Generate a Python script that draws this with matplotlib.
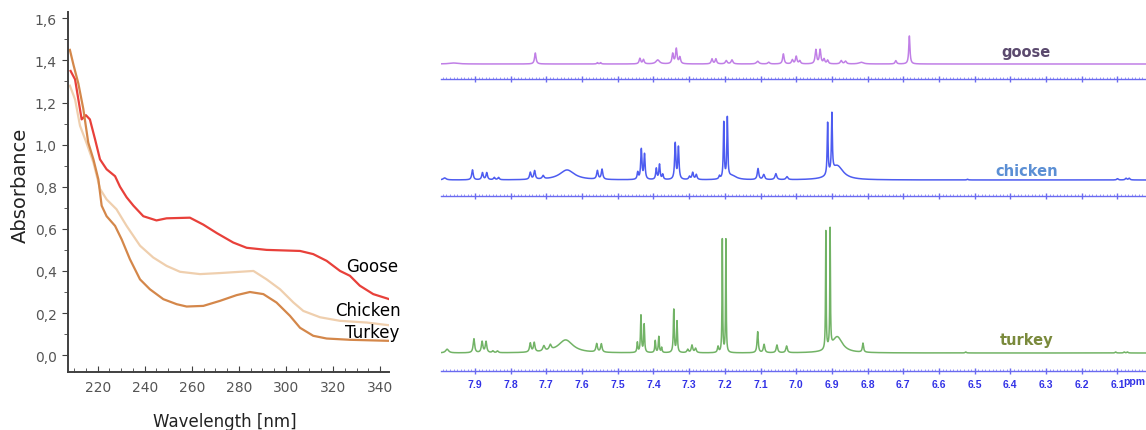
import numpy as np
import matplotlib
matplotlib.use("Agg")
import matplotlib.pyplot as plt
from matplotlib.ticker import MultipleLocator

# UV-Vis absorbance curves (wavelength nm, absorbance)
goose_nm = [208.5, 210.4, 211.8, 213.2, 215.0, 216.7, 218.9, 221.0, 223.8, 227.4, 229.5,
            232.3, 235.2, 239.4, 245.0, 249.3, 259.2, 264.9, 270.6, 277.6, 283.3, 291.8,
            306.0, 311.6, 317.3, 323.0, 327.2, 331.4, 337.1, 343.9]
goose_abs = [1.35, 1.31, 1.215, 1.12, 1.14, 1.12, 1.025, 0.93, 0.883, 0.85, 0.80,
             0.75, 0.71, 0.66, 0.64, 0.65, 0.653, 0.62, 0.58, 0.535, 0.51, 0.50,
             0.495, 0.48, 0.448, 0.40, 0.377, 0.33, 0.29, 0.266]

chicken_nm = [208.2, 210.4, 212.5, 215.2, 218.2, 221.0, 223.8, 228.0, 232.3, 238.0, 243.6,
              249.3, 255.0, 263.5, 272.0, 280.5, 286.2, 291.8, 297.5, 303.2, 307.4, 314.5,
              323.0, 334.3, 343.9]
chicken_abs = [1.28, 1.215, 1.09, 1.01, 0.915, 0.79, 0.74, 0.693, 0.614, 0.52, 0.464,
               0.424, 0.396, 0.385, 0.39, 0.396, 0.40, 0.36, 0.313, 0.25, 0.21, 0.18,
               0.163, 0.155, 0.142]

turkey_nm = [208.2, 209.7, 211.8, 213.9, 216.0, 218.2, 220.3, 221.7, 223.8, 227.4, 230.2,
             233.7, 238.0, 242.2, 247.9, 253.6, 257.8, 264.9, 272.0, 279.0, 284.7, 290.4,
             296.0, 301.7, 306.0, 311.6, 317.3, 327.2, 343.9]
turkey_abs = [1.45, 1.38, 1.29, 1.17, 1.01, 0.93, 0.835, 0.71, 0.66, 0.614, 0.55,
              0.456, 0.36, 0.313, 0.266, 0.242, 0.231, 0.234, 0.258, 0.285, 0.30, 0.29,
              0.25, 0.187, 0.13, 0.092, 0.079, 0.073, 0.068]

uv_yticks = [0.0, 0.2, 0.4, 0.6, 0.8, 1.0, 1.2, 1.4, 1.6]
uv_xticks = [220, 240, 260, 280, 300, 320, 340]

# 1H NMR peak tables: (shift ppm, height, line width ppm)
goose_peaks = [
    (7.96, 1.0, 0.03), (7.731, 11, 0.005), (7.557, 1.3, 0.004), (7.548, 1.3, 0.004),
    (7.438, 5.5, 0.005), (7.428, 4.3, 0.005), (7.388, 4, 0.012),
    (7.346, 10, 0.005), (7.336, 15, 0.005), (7.326, 6.5, 0.005),
    (7.236, 5, 0.005), (7.225, 5, 0.005), (7.196, 3.3, 0.006), (7.18, 4, 0.006),
    (7.108, 2.7, 0.008), (7.077, 1.7, 0.006), (7.036, 10, 0.005),
    (7.011, 4, 0.005), (7.0, 7.5, 0.005), (6.99, 3, 0.005),
    (6.945, 14, 0.005), (6.933, 14, 0.005), (6.922, 4.5, 0.005), (6.912, 3.5, 0.005),
    (6.874, 3.3, 0.006), (6.862, 2.7, 0.006), (6.818, 1.7, 0.015),
    (6.721, 3.3, 0.005), (6.683, 28, 0.004),
]
chicken_peaks = [
    (7.985, 2, 0.01), (7.907, 10, 0.005), (7.879, 7, 0.005), (7.867, 7, 0.005),
    (7.846, 2.3, 0.005), (7.834, 2.3, 0.005), (7.745, 7, 0.005), (7.733, 8.5, 0.005),
    (7.709, 3.3, 0.006), (7.642, 10, 0.05), (7.557, 8.5, 0.005), (7.544, 10, 0.005),
    (7.444, 7, 0.004), (7.434, 30, 0.004), (7.425, 25, 0.004),
    (7.392, 11, 0.004), (7.383, 15, 0.004), (7.374, 5, 0.004),
    (7.339, 36, 0.004), (7.33, 32, 0.004),
    (7.299, 3, 0.005), (7.29, 7, 0.005), (7.28, 5, 0.005), (7.215, 3, 0.004),
    (7.203, 56, 0.003), (7.193, 60, 0.003), (7.18, 4, 0.03),
    (7.107, 11, 0.005), (7.091, 5, 0.006), (7.057, 6, 0.006), (7.026, 3, 0.006),
    (6.912, 52, 0.003), (6.900, 58, 0.003), (6.885, 14, 0.04),
    (6.52, 0.7, 0.004), (6.10, 1.3, 0.005), (6.076, 1.7, 0.005), (6.067, 1.7, 0.005),
]
turkey_peaks = [
    (7.978, 3.7, 0.01), (7.903, 14, 0.005), (7.88, 11, 0.005), (7.869, 11, 0.005),
    (7.85, 1.7, 0.005), (7.837, 1.7, 0.005), (7.745, 9, 0.005), (7.734, 9.3, 0.005),
    (7.707, 5.3, 0.007), (7.689, 5.3, 0.007), (7.646, 13, 0.05),
    (7.559, 8.3, 0.005), (7.546, 8.3, 0.005),
    (7.445, 10, 0.003), (7.435, 37, 0.003), (7.426, 28, 0.003),
    (7.395, 12, 0.003), (7.385, 16, 0.003), (7.377, 5, 0.003),
    (7.343, 43, 0.003), (7.334, 31, 0.003),
    (7.304, 3.3, 0.005), (7.292, 7.5, 0.005), (7.282, 4.3, 0.005), (7.219, 6, 0.004),
    (7.207, 113, 0.002), (7.197, 113, 0.002),
    (7.108, 21, 0.004), (7.09, 8.3, 0.005), (7.054, 7.7, 0.005), (7.027, 6.7, 0.005),
    (6.917, 118, 0.002), (6.905, 118, 0.002), (6.885, 16, 0.035),
    (6.813, 9, 0.004), (6.525, 1, 0.004),
    (6.105, 1, 0.004), (6.081, 1, 0.004), (6.072, 1, 0.004),
]
nmr_ticks = [7.9, 7.8, 7.7, 7.6, 7.5, 7.4, 7.3, 7.2, 7.1, 7.0,
             6.9, 6.8, 6.7, 6.6, 6.5, 6.4, 6.3, 6.2, 6.1]


def spectrum(x, peaks):
    y = np.zeros_like(x)
    for c, h, w in peaks:
        y += h / (1 + ((x - c) / (w / 2)) ** 2)
    return y


W, H = 1146, 431
fig = plt.figure(figsize=(W / 100, H / 100), dpi=100)


def px_axes(left, top, right, bottom):
    return fig.add_axes([left / W, 1 - bottom / H, (right - left) / W, (bottom - top) / H])


# ---- left panel: UV-Vis ----
ax = px_axes(68, 13, 389, 373)
ax.plot(goose_nm, goose_abs, color="#e8403a", lw=1.6)
ax.plot(chicken_nm, chicken_abs, color="#efcfae", lw=1.6)
ax.plot(turkey_nm, turkey_abs, color="#d4874a", lw=1.6)
ax.set_xlim(207.4, 343.8)
ax.set_ylim(-0.08, 1.63)
ax.set_xticks(uv_xticks)
ax.set_yticks(uv_yticks)
ax.set_yticklabels([f"{v:.1f}".replace(".", ",") for v in uv_yticks])
ax.xaxis.set_minor_locator(MultipleLocator(5))
ax.yaxis.set_minor_locator(MultipleLocator(0.1))
for s in ["top", "right"]:
    ax.spines[s].set_visible(False)
for s in ["left", "bottom"]:
    ax.spines[s].set_color("#404040")
    ax.spines[s].set_linewidth(1.4)
ax.tick_params(axis="x", which="both", direction="in", color="#404040", labelcolor="#555555",
               labelsize=10, pad=6)
ax.tick_params(axis="x", which="major", length=4)
ax.tick_params(axis="x", which="minor", length=3)
ax.tick_params(axis="y", which="both", direction="out", color="#404040", labelcolor="#555555",
               labelsize=10, pad=4)
ax.tick_params(axis="y", which="major", length=4)
ax.tick_params(axis="y", which="minor", length=3)
ax.set_xlabel("Wavelength [nm]", fontsize=12, color="#222222")
ax.set_ylabel("Absorbance", fontsize=14, color="#222222")
ax.xaxis.set_label_coords(0.49, -0.11)
ax.yaxis.set_label_coords(-0.12, 0.52)
ax.text(336.6, 0.423, "Goose", fontsize=12, ha="center", va="center")
ax.text(334.7, 0.214, "Chicken", fontsize=12, ha="center", va="center")
ax.text(336.6, 0.109, "Turkey", fontsize=12, ha="center", va="center")

# ---- right panel: NMR spectra ----
ppm = np.linspace(8.0, 6.0, 40001)
ruler = "#6a6af0"
panels = [
    (goose_peaks, "#c07fe6", 80, 15, 60, "goose", "#5b4a6e", 12),
    (chicken_peaks, "#4d5cf0", 197, 16, 97, "chicken", "#5b8fd4", 9),
    (turkey_peaks, "#72b366", 372, 18, 147, "turkey", "#7a8a3c", 13),
]
for i, (peaks, col, ruler_y, gap, hgt, name, lcol, ly) in enumerate(panels):
    a = px_axes(440.7, ruler_y - hgt, 1146, ruler_y)
    a.patch.set_visible(False)
    a.plot(ppm, spectrum(ppm, peaks), color=col, lw=1.1)
    a.set_xlim(7.996, 6.020)
    a.set_ylim(-gap, hgt - gap)
    a.set_yticks([])
    for s in ["top", "right", "left"]:
        a.spines[s].set_visible(False)
    a.spines["bottom"].set_color(ruler)
    a.spines["bottom"].set_linewidth(1.0)
    a.set_xticks(nmr_ticks)
    a.set_xticklabels([f"{t:.1f}" for t in nmr_ticks])
    a.xaxis.set_minor_locator(MultipleLocator(0.01))
    a.tick_params(axis="x", which="major", direction="inout", length=5, width=1, color=ruler)
    a.tick_params(axis="x", which="minor", direction="in", length=1.6, width=0.6,
                  color="#8c8cf4")
    a.tick_params(axis="x", labelsize=7.5, labelcolor="#3232e6", pad=3,
                  labelbottom=(i == 2))
    if i == 2:
        for lab in a.get_xticklabels():
            lab.set_fontweight("bold")
            lab.set_family("Liberation Sans")
        a.text(0.999, -gap - 10, "ppm", fontsize=7.5, fontweight="bold", color="#3232e6",
               family="Liberation Sans", ha="right", va="center", clip_on=False,
               transform=a.get_yaxis_transform())
    a.text(6.355, ly, name, fontsize=10.5, fontweight="bold", color=lcol,
           ha="center", va="center")

fig.savefig("out.png", dpi=100)
